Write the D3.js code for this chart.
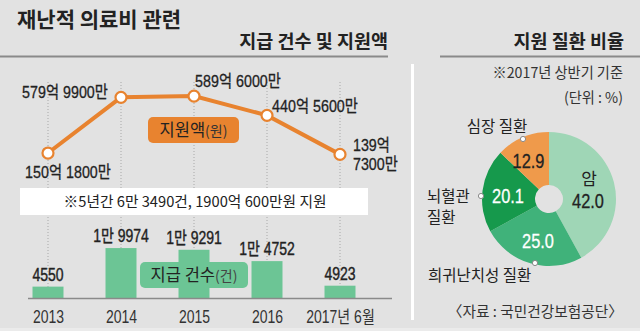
<!DOCTYPE html>
<html><head><meta charset="utf-8">
<script src="https://cdn.jsdelivr.net/npm/d3@7"></script>
<style>
body{margin:0;background:#e2e2e2;}
svg{display:block;}
</style></head>
<body><svg id="c" width="640" height="331"></svg>
<script>
const years = ["2013","2014","2015","2016","2017년 6월"];
const amounts = [150.18, 579.99, 589.60, 440.56, 139.73]; // 억원
const amountLabels = [["150억 1800만"],["579억 9900만"],["589억 6000만"],["440억 5600만"],["139억","7300만"]];
const counts = [4550, 19974, 19291, 14752, 4923];
const countLabels = ["4550","1만 9974","1만 9291","1만 4752","4923"];
const diseases = ["암","희귀난치성 질환","뇌혈관 질환","심장 질환"];
const shares = [42.0, 25.0, 20.1, 12.9];

const svg = d3.select("#c");
const KR = '"Noto Sans CJK KR","Noto Sans",sans-serif';
const NUM = '"Liberation Sans","Arial","Noto Sans CJK KR",sans-serif';

// condensed text helper
function ctext(parent, x, y, str, o={}){
  const g = parent.append("g").attr("transform",`translate(${x},${y}) scale(${o.sx||0.82},1)`);
  const t = g.append("text").attr("x",0).attr("y",0).attr("text-anchor",o.anchor||"middle")
    .attr("font-family",o.family||NUM).attr("font-size",o.size||17).attr("fill",o.fill||"#222")
    .attr("font-weight",o.weight||"normal").text(str);
  if(o.stroke){ t.attr("stroke",o.fill||"#222").attr("stroke-width",o.stroke); }
  return t;
}

svg.append("rect").attr("width",640).attr("height",331).attr("fill","#e2e2e2");
svg.append("rect").attr("y",328).attr("width",640).attr("height",3).attr("fill","#ebebeb");

// titles
svg.append("text").attr("x",17).attr("y",27).attr("font-family",KR).attr("font-weight","bold")
  .attr("font-size",21).attr("fill","#222").text("재난적 의료비 관련");
svg.append("text").attr("x",388).attr("y",48).attr("text-anchor","end").attr("font-family",KR).attr("font-weight","bold")
  .attr("font-size",18.5).attr("fill","#222").text("지급 건수 및 지원액");
svg.append("text").attr("x",624).attr("y",48).attr("text-anchor","end").attr("font-family",KR).attr("font-weight","bold")
  .attr("font-size",18.5).attr("fill","#222").text("지원 질환 비율");
svg.append("line").attr("x1",0).attr("x2",388).attr("y1",56.5).attr("y2",56.5).attr("stroke","#8a8a8a").attr("stroke-width",2);
svg.append("line").attr("x1",440).attr("x2",640).attr("y1",56.5).attr("y2",56.5).attr("stroke","#8a8a8a").attr("stroke-width",2);
svg.append("line").attr("x1",412.5).attr("x2",412.5).attr("y1",64).attr("y2",320).attr("stroke","#fff").attr("stroke-width",3);

// scales
const x = d3.scalePoint().domain(years).range([48,340]);
const yA = d3.scaleLinear().domain([0,600]).range([172.5,94.7]);
const yC = d3.scaleLinear().domain([0,20000]).range([298,248]);

// grid dotted lines
svg.append("g").selectAll("line").data(years).join("line")
  .attr("x1",d=>x(d)).attr("x2",d=>x(d)).attr("y1",82).attr("y2",298)
  .attr("stroke","#a8a8a8").attr("stroke-dasharray","1,2").attr("stroke-width",1);

// bars
const bw = 31;
svg.append("g").selectAll("rect").data(counts).join("rect")
  .attr("x",(d,i)=>x(years[i])-bw/2).attr("width",bw)
  .attr("y",d=>yC(d)).attr("height",d=>yC(0)-yC(d)).attr("fill","#6cc595");
countLabels.forEach((s,i)=>ctext(svg, x(years[i]), yC(counts[i])-6, s, {size:17.5, sx:0.8, stroke:0.4}));

// axis
const ax = svg.append("g").attr("transform","translate(0,298)")
  .call(d3.axisBottom(x).tickSize(0).tickPadding(8));
ax.select(".domain").remove();
svg.append("line").attr("x1",28).attr("x2",392).attr("y1",298.5).attr("y2",298.5).attr("stroke","#8a8a8a").attr("stroke-width",1.5);
ax.selectAll("text").attr("font-family",NUM).attr("font-size",17.5).attr("fill","#333").attr("dy","0.95em")
  .attr("transform","scale(0.8,1)");

// count legend box
svg.append("rect").attr("x",140).attr("y",262).attr("width",108).attr("height",26).attr("rx",5).attr("fill","#6cc595");
svg.append("text").attr("x",194).attr("y",281).attr("text-anchor","middle").attr("font-family",KR).attr("font-size",16.5).attr("fill","#222")
  .html('지급 건수<tspan font-size="14" fill="#444">(건)</tspan>');

// note box
svg.append("rect").attr("x",20).attr("y",188).attr("width",348).attr("height",27).attr("fill","#fff");
ctext(svg, 195, 207, "※5년간 6만 3490건, 1900억 600만원 지원", {family:KR, size:15, sx:0.98});

// line
const line = d3.line().x((d,i)=>x(years[i])).y(d=>yA(d));
svg.append("path").datum(amounts).attr("d",line).attr("fill","none").attr("stroke","#e8832f").attr("stroke-width",4);
svg.append("g").selectAll("circle").data(amounts).join("circle")
  .attr("cx",(d,i)=>x(years[i])).attr("cy",d=>yA(d)).attr("r",5.5)
  .attr("fill","#fff").attr("stroke","#e8832f").attr("stroke-width",2.2);

// amount labels
const lblPos = [{dx:20,dy:25,a:"middle"},{dx:-56,dy:1,a:"middle"},{dx:44,dy:-9,a:"middle"},{dx:48,dy:-3,a:"middle"},{dx:13,dy:-3,a:"start"}];
amountLabels.forEach((lines,i)=>{
  lines.forEach((s,j)=>ctext(svg, x(years[i])+lblPos[i].dx, yA(amounts[i])+lblPos[i].dy + j*19, s,
    {size:17, sx:0.84, anchor:lblPos[i].a, stroke:0.3}));
});

// amount legend box
svg.append("rect").attr("x",148).attr("y",117).attr("width",91).attr("height",26).attr("rx",5).attr("fill","#e8832f");
svg.append("text").attr("x",193.5).attr("y",136).attr("text-anchor","middle").attr("font-family",KR).attr("font-size",16.5).attr("fill","#222")
  .html('지원액<tspan font-size="14" fill="#333">(원)</tspan>');

// pie
const cx = 549, cy = 199, R = 67, r0 = 14;
const pieColors = ["#9fd6b6","#40b27a","#16994c","#ef9a4b"];
const arcs = d3.pie().sort(null).value(d=>d)(shares);
const arc = d3.arc().innerRadius(r0).outerRadius(R);
const pg = svg.append("g").attr("transform",`translate(${cx},${cy})`);
pg.selectAll("path").data(arcs).join("path").attr("d",arc).attr("fill",(d,i)=>pieColors[i]);
const valPos = [[39,9],[-11,49],[-41,4],[-20.5,-31]];
const valCol = ["#222","#fff","#fff","#222"];
arcs.forEach((a,i)=>ctext(pg, valPos[i][0], valPos[i][1], a.data.toFixed(1), {size:21, sx:0.78, fill:valCol[i], stroke:0.3}));
pg.append("text").attr("x",40).attr("y",-14).attr("text-anchor","middle").attr("font-family",KR).attr("font-size",17).attr("fill","#222").text(diseases[0]);

// leader dots
const dots = [[523,139],[481,196],[535,263]];
svg.append("g").selectAll("circle").data(dots).join("circle").attr("cx",d=>d[0]).attr("cy",d=>d[1]).attr("r",2.6)
  .attr("fill","#fff").attr("stroke","#888").attr("stroke-width",1);

svg.append("text").attr("x",497).attr("y",132).attr("text-anchor","middle").attr("font-family",KR).attr("font-size",15.5).attr("fill","#222").text(diseases[3]);
const bt = svg.append("text").attr("x",427).attr("y",202).attr("font-family",KR).attr("font-size",15.5).attr("fill","#222");
bt.append("tspan").attr("x",427).text("뇌혈관");
bt.append("tspan").attr("x",427).attr("dy",21).text("질환");
svg.append("text").attr("x",428).attr("y",281).attr("font-family",KR).attr("font-size",15.5).attr("fill","#222").text(diseases[1]);

ctext(svg, 623, 78, "※2017년 상반기 기준", {family:KR, size:14.5, sx:0.98, anchor:"end", fill:"#333"});
ctext(svg, 623, 103, "(단위 : %)", {family:KR, size:14.5, sx:0.98, anchor:"end", fill:"#333"});
ctext(svg, 623, 317, "〈자료 : 국민건강보험공단〉", {family:KR, size:15, sx:0.98, anchor:"end", fill:"#333"});
</script></body></html>
